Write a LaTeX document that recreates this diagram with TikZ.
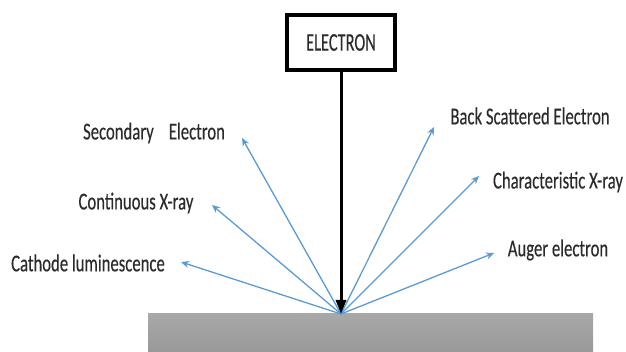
\documentclass[tikz,border=0pt]{standalone}
\usepackage{fontspec}
\setmainfont{Carlito}
\newfontfamily\lblfont{Carlito}[FakeBold=0.35]
\usetikzlibrary{arrows.meta}
\definecolor{rayblue}{HTML}{5B9BD5}
\definecolor{txtgray}{HTML}{2B2B2B}
\tikzset{
  lbl/.style={inner sep=0pt, text=txtgray, font=\lblfont\fontsize{16.7}{20}\selectfont},
  ray/.style={draw=rayblue, line width=1.3pt, -{Stealth[length=8pt,width=7pt]}},
  beam/.style={draw=black, line width=3pt, -{Triangle[length=14pt,width=10pt]}},
  ebox/.style={draw=black, line width=4.5pt, fill=white, minimum width=108pt, minimum height=55pt, inner sep=0pt, text=txtgray, font=\lblfont\fontsize{16.4}{20}\selectfont},
}
\newcommand{\vs}[1]{\scalebox{1}[1.45]{#1}}
\begin{document}
\begin{tikzpicture}[x=1pt,y=-1pt]
\useasboundingbox (0,0) rectangle (626,352);
% ground
\shade[top color=gray!68!white, bottom color=gray!80!white] (148,314) rectangle (593,352);
% electron box
\node[ebox] (box) at (341,42.5) {\scalebox{1}[1.55]{ELECTRON}};
\coordinate (O) at (341,314);
% labels
\node[lbl] (se) at (154,133) {\vs{Secondary\hspace{0.9em}Electron}};
\node[lbl] (cx) at (136,203) {\vs{Continuous X-ray}};
\node[lbl] (cl) at (88,263) {\vs{Cathode luminescence}};
\node[lbl] (bs) at (530,116) {\vs{Back Scattered Electron}};
\node[lbl] (ch) at (558,182) {\vs{Characteristic X-ray}};
\node[lbl] (au) at (558,250) {\vs{Auger electron}};
% ray ends
\coordinate (tse) at (242,138);
\coordinate (tcx) at (212,205);
\coordinate (tcl) at (181,262);
\coordinate (tbs) at (434,127);
\coordinate (tch) at (479,176);
\coordinate (tau) at (494,253);
\draw[ray] (O) -- (tse);
\draw[ray] (O) -- (tcx);
\draw[ray] (O) -- (tcl);
\draw[ray] (O) -- (tbs);
\draw[ray] (O) -- (tch);
\draw[ray] (O) -- (tau);
% incident beam
\draw[beam] (box.south) -- (O);
\end{tikzpicture}
\end{document}
